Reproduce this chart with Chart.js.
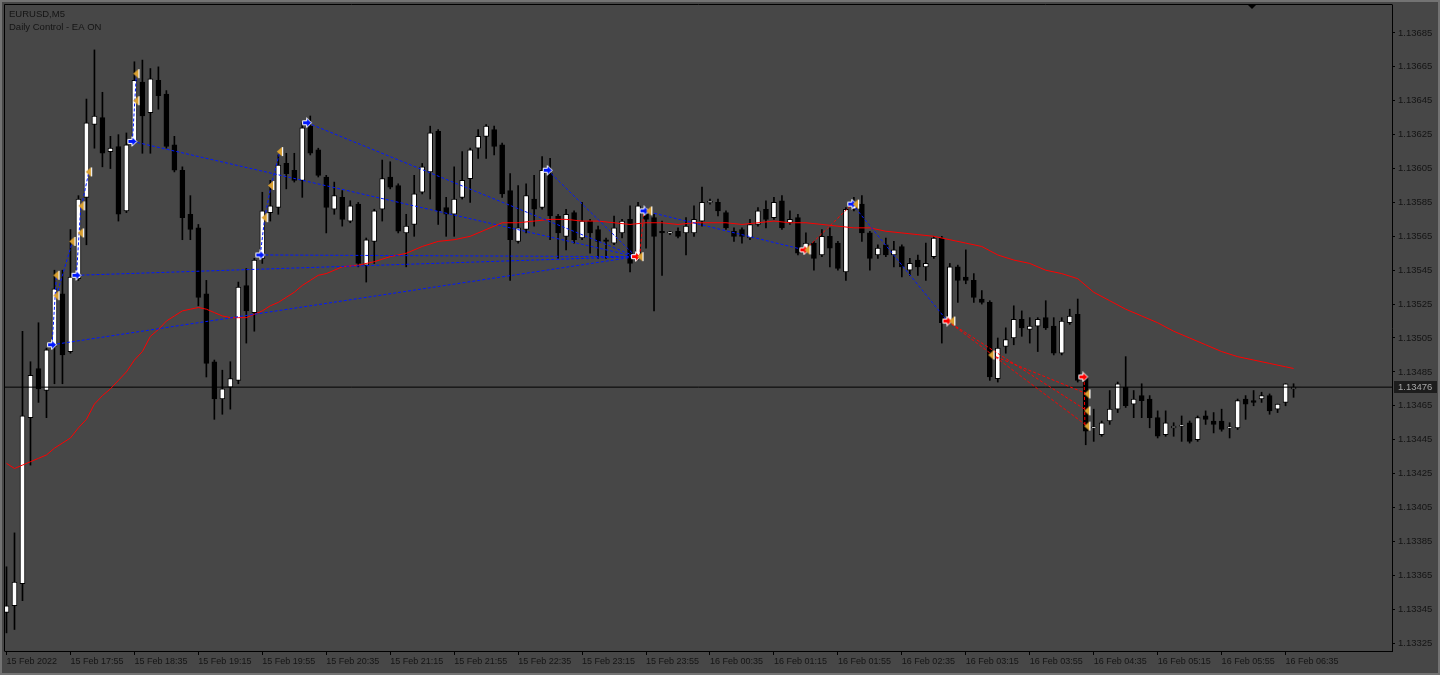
<!DOCTYPE html>
<html>
<head>
<meta charset="utf-8">
<script src="https://cdn.jsdelivr.net/npm/chart.js@4.4.1/dist/chart.umd.min.js"></script>
<style>
  html, body { margin: 0; padding: 0; background: #474747; overflow: hidden; }
  #wrap { width: 1440px; height: 675px; }
</style>
</head>
<body>
<div id="wrap"><canvas id="chart" width="1440" height="675"></canvas></div>
<script>
/* EURUSD M5 candles + MA + EA trade marks, MT4 look. */

// candle series, one value per 5-minute bar (15 Feb 17:15 .. 16 Feb 06:40)
const opens = [1.13343,1.13347,1.13360,1.13458,1.13487,1.13474,1.13500,1.13531,1.13497,1.13540,
  1.13588,1.13631,1.13635,1.13615,1.13618,1.13580,1.13621,1.13656,1.13638,1.13657,
  1.13649,1.13619,1.13604,1.13578,1.13570,1.13531,1.13491,1.13469,1.13476,1.13480,
  1.13536,1.13520,1.13552,1.13579,1.13582,1.13608,1.13604,1.13598,1.13630,1.13616,
  1.13600,1.13581,1.13588,1.13574,1.13584,1.13548,1.13562,1.13581,1.13600,1.13595,
  1.13567,1.13572,1.13591,1.13603,1.13627,1.13582,1.13578,1.13588,1.13599,1.13617,
  1.13624,1.13628,1.13619,1.13592,1.13562,1.13569,1.13587,1.13582,1.13602,1.13577,
  1.13565,1.13579,1.13564,1.13574,1.13569,1.13563,1.13561,1.13567,1.13575,1.13552,
  1.13578,1.13576,1.13568,1.13567,1.13568,1.13567,1.13567,1.13574,1.13585,1.13585,
  1.13579,1.13568,1.13569,1.13564,1.13572,1.13581,1.13576,1.13586,1.13573,1.13576,
  1.13557,1.13561,1.13554,1.13565,1.13561,1.13544,1.13581,1.13584,1.13567,1.13554,
  1.13560,1.13554,1.13559,1.13545,1.13551,1.13547,1.13553,1.13564,1.13515,1.13547,
  1.13541,1.13539,1.13528,1.13526,1.13481,1.13500,1.13505,1.13516,1.13510,1.13512,
  1.13517,1.13512,1.13496,1.13514,1.13519,1.13482,1.13452,1.13448,1.13456,1.13463,
  1.13476,1.13466,1.13471,1.13469,1.13458,1.13448,1.13452,1.13453,1.13455,1.13445,
  1.13459,1.13456,1.13456,1.13452,1.13452,1.13469,1.13468,1.13469,1.13471,1.13463,
  1.13467,1.13475];
const highs = [1.13370,1.13390,1.13509,1.13491,1.13514,1.13499,1.13545,1.13545,1.13569,1.13589,
  1.13646,1.13675,1.13650,1.13624,1.13625,1.13626,1.13668,1.13669,1.13664,1.13665,
  1.13651,1.13624,1.13606,1.13589,1.13572,1.13539,1.13492,1.13486,1.13491,1.13538,
  1.13546,1.13552,1.13591,1.13598,1.13613,1.13614,1.13614,1.13632,1.13636,1.13617,
  1.13601,1.13597,1.13592,1.13586,1.13585,1.13564,1.13581,1.13610,1.13609,1.13596,
  1.13578,1.13601,1.13608,1.13630,1.13628,1.13588,1.13606,1.13615,1.13617,1.13628,
  1.13631,1.13630,1.13620,1.13602,1.13595,1.13596,1.13601,1.13612,1.13611,1.13578,
  1.13581,1.13580,1.13585,1.13575,1.13571,1.13564,1.13577,1.13575,1.13583,1.13585,
  1.13582,1.13578,1.13574,1.13568,1.13570,1.13576,1.13583,1.13594,1.13587,1.13587,
  1.13580,1.13570,1.13570,1.13575,1.13582,1.13586,1.13588,1.13589,1.13580,1.13578,
  1.13567,1.13562,1.13569,1.13570,1.13562,1.13582,1.13588,1.13589,1.13568,1.13560,
  1.13564,1.13562,1.13560,1.13552,1.13554,1.13561,1.13565,1.13565,1.13549,1.13548,
  1.13557,1.13543,1.13533,1.13527,1.13505,1.13511,1.13524,1.13521,1.13517,1.13517,
  1.13527,1.13517,1.13517,1.13522,1.13528,1.13483,1.13463,1.13456,1.13474,1.13479,
  1.13494,1.13474,1.13478,1.13471,1.13462,1.13462,1.13455,1.13459,1.13456,1.13459,
  1.13462,1.13461,1.13463,1.13455,1.13469,1.13471,1.13474,1.13473,1.13472,1.13466,
  1.13478,1.13478];
const lows = [1.13331,1.13333,1.13350,1.13430,1.13467,1.13458,1.13478,1.13478,1.13496,1.13539,
  1.13560,1.13617,1.13606,1.13605,1.13574,1.13579,1.13620,1.13614,1.13614,1.13640,
  1.13617,1.13603,1.13563,1.13563,1.13524,1.13482,1.13457,1.13460,1.13463,1.13478,
  1.13502,1.13509,1.13549,1.13574,1.13578,1.13593,1.13597,1.13588,1.13613,1.13600,
  1.13567,1.13578,1.13571,1.13573,1.13547,1.13538,1.13549,1.13574,1.13593,1.13567,
  1.13547,1.13565,1.13590,1.13587,1.13572,1.13565,1.13565,1.13587,1.13585,1.13611,
  1.13611,1.13613,1.13588,1.13539,1.13561,1.13567,1.13571,1.13581,1.13563,1.13552,
  1.13557,1.13561,1.13563,1.13555,1.13552,1.13552,1.13560,1.13564,1.13544,1.13551,
  1.13558,1.13521,1.13542,1.13566,1.13564,1.13554,1.13565,1.13571,1.13584,1.13577,
  1.13569,1.13562,1.13561,1.13563,1.13571,1.13570,1.13575,1.13569,1.13572,1.13554,
  1.13556,1.13545,1.13553,1.13547,1.13545,1.13539,1.13580,1.13562,1.13545,1.13552,
  1.13553,1.13547,1.13541,1.13542,1.13542,1.13539,1.13552,1.13502,1.13514,1.13526,
  1.13537,1.13526,1.13525,1.13480,1.13479,1.13496,1.13501,1.13506,1.13502,1.13497,
  1.13510,1.13495,1.13495,1.13513,1.13479,1.13442,1.13444,1.13447,1.13454,1.13461,
  1.13464,1.13458,1.13458,1.13452,1.13446,1.13447,1.13447,1.13444,1.13443,1.13444,
  1.13454,1.13449,1.13450,1.13446,1.13451,1.13457,1.13465,1.13467,1.13460,1.13461,
  1.13465,1.13470];
const closes = [1.13347,1.13361,1.13459,1.13483,1.13475,1.13498,1.13534,1.13495,1.13541,1.13587,
  1.13632,1.13636,1.13614,1.13617,1.13578,1.13619,1.13657,1.13636,1.13658,1.13648,
  1.13618,1.13604,1.13576,1.13569,1.13529,1.13490,1.13469,1.13475,1.13481,1.13535,
  1.13521,1.13551,1.13580,1.13583,1.13607,1.13602,1.13598,1.13629,1.13614,1.13601,
  1.13582,1.13589,1.13575,1.13583,1.13549,1.13563,1.13580,1.13599,1.13594,1.13568,
  1.13571,1.13590,1.13606,1.13626,1.13580,1.13578,1.13587,1.13598,1.13616,1.13624,
  1.13630,1.13618,1.13590,1.13563,1.13570,1.13589,1.13581,1.13604,1.13577,1.13567,
  1.13578,1.13563,1.13574,1.13567,1.13562,1.13562,1.13570,1.13574,1.13549,1.13583,
  1.13575,1.13565,1.13567,1.13567,1.13565,1.13571,1.13575,1.13585,1.13585,1.13580,
  1.13570,1.13565,1.13565,1.13572,1.13580,1.13575,1.13585,1.13570,1.13575,1.13555,
  1.13561,1.13552,1.13565,1.13558,1.13546,1.13581,1.13584,1.13567,1.13552,1.13558,
  1.13554,1.13557,1.13547,1.13549,1.13547,1.13549,1.13564,1.13514,1.13547,1.13539,
  1.13539,1.13529,1.13526,1.13482,1.13499,1.13504,1.13516,1.13511,1.13512,1.13516,
  1.13511,1.13496,1.13515,1.13518,1.13480,1.13450,1.13452,1.13455,1.13463,1.13478,
  1.13465,1.13469,1.13468,1.13458,1.13447,1.13455,1.13453,1.13453,1.13444,1.13458,
  1.13457,1.13454,1.13451,1.13452,1.13468,1.13466,1.13467,1.13471,1.13462,1.13466,
  1.13478,1.13476];

// red moving average, read at these bar numbers
const maBars = [0,1,2,3,4,5,6,7,8,9,10,11,12,13,14,15,16,17,18,19,20,21,22,23,24,25,26,27,28,29,
  30,31,32,33,34,35,36,37,38,39,40,42,44,46,48,50,52,54,56,58,60,62,64,66,68,70,72,74,76,78,
  80,82,84,86,88,90,92,94,96,98,100,102,104,106,108,110,112,114,116,118,120,122,124,126,128,
  130,132,134,136,138,140,142,144,146,148,150,152,154,156,158,160,161];
const maValues = [1.13431,1.13428,1.13430,1.13432,1.13434,1.13436,1.13440,1.13443,1.13446,1.13452,
  1.13457,1.13466,1.13471,1.13475,1.13480,1.13485,1.13492,1.13497,1.13506,1.13510,
  1.13515,1.13518,1.13521,1.13522,1.13523,1.13522,1.13520,1.13518,1.13517,1.13517,
  1.13517,1.13519,1.13521,1.13524,1.13526,1.13529,1.13532,1.13536,1.13539,1.13542,
  1.13543,1.13547,1.13548,1.13550,1.13553,1.13555,1.13559,1.13562,1.13563,1.13565,
  1.13569,1.13573,1.13573,1.13574,1.13575,1.13575,1.13574,1.13574,1.13573,1.13572,
  1.13573,1.13573,1.13572,1.13573,1.13573,1.13573,1.13572,1.13573,1.13574,1.13573,
  1.13573,1.13572,1.13571,1.13570,1.13570,1.13568,1.13567,1.13566,1.13565,1.13563,
  1.13561,1.13559,1.13554,1.13551,1.13549,1.13545,1.13543,1.13540,1.13532,1.13527,
  1.13522,1.13518,1.13514,1.13509,1.13505,1.13501,1.13497,1.13494,1.13492,1.13490,
  1.13488,1.13487];

// EA trade marks: bar position (fractional) and price
const buyArrowBars   = [5.7, 8.75, 15.75, 31.75, 37.6, 67.7, 79.8, 105.8];
const buyArrowPrices = [1.13501, 1.13542, 1.13621, 1.13554, 1.13632, 1.13604, 1.13580, 1.13584];
const exitArrowBars   = [78.75, 99.8, 117.7, 134.7];
const exitArrowPrices = [1.13553, 1.13557, 1.13515, 1.13482];
const closeMarkBars   = [6.25, 6.25, 8.25, 9.4, 9.3, 10.3, 16.25, 16.25, 32.3, 33.1, 34.2,
  80.4, 79.3, 100.2, 106.25, 118.3, 123.2, 135.2, 135.2, 135.2];
const closeMarkPrices = [1.13542, 1.13530, 1.13562, 1.13583, 1.13567, 1.13603, 1.13661, 1.13645,
  1.13576, 1.13595, 1.13615, 1.13580, 1.13553, 1.13557, 1.13584, 1.13515, 1.13495,
  1.13472, 1.13462, 1.13453];

// dashed trade links [barFrom, priceFrom, barTo, priceTo]
const blueLinks = [
  [5.7, 1.13501, 78.75, 1.13553], [8.75, 1.13542, 78.75, 1.13553], [15.75, 1.13621, 78.75, 1.13553],
  [31.75, 1.13554, 78.75, 1.13553], [37.6, 1.13632, 78.75, 1.13553], [67.7, 1.13604, 78.75, 1.13553],
  [79.8, 1.13580, 99.8, 1.13557], [105.8, 1.13584, 117.7, 1.13515],
  [5.7, 1.13501, 6.25, 1.13542], [6.25, 1.13530, 8.25, 1.13562], [8.75, 1.13542, 9.3, 1.13583],
  [9.4, 1.13583, 10.3, 1.13603], [15.75, 1.13621, 16.25, 1.13661],
  [31.75, 1.13554, 32.3, 1.13576], [32.3, 1.13576, 33.1, 1.13595], [33.1, 1.13595, 34.2, 1.13615]
];
const redLinks = [
  [79.2, 1.13553, 79.7, 1.13578], [99.9, 1.13557, 105.8, 1.13584],
  [117.7, 1.13515, 135.2, 1.13453], [117.7, 1.13515, 135.2, 1.13462], [123.2, 1.13495, 135.2, 1.13472],
  [134.8, 1.13482, 134.9, 1.13453]
];

const bidPrice = 1.13476;
const priceTicks = [1.13325,1.13345,1.13365,1.13385,1.13405,1.13425,1.13445,1.13465,1.13485,1.13505,
  1.13525,1.13545,1.13565,1.13585,1.13605,1.13625,1.13645,1.13665,1.13685];
const timeTickBars = [0,8,16,24,32,40,48,56,64,72,80,88,96,104,112,120,128,136,144,152,160];
const timeLabels = ["15 Feb 2022","15 Feb 17:55","15 Feb 18:35","15 Feb 19:15","15 Feb 19:55",
  "15 Feb 20:35","15 Feb 21:15","15 Feb 21:55","15 Feb 22:35","15 Feb 23:15","15 Feb 23:55",
  "16 Feb 00:35","16 Feb 01:15","16 Feb 01:55","16 Feb 02:35","16 Feb 03:15","16 Feb 03:55",
  "16 Feb 04:35","16 Feb 05:15","16 Feb 05:55","16 Feb 06:35"];

// visible window (8px per bar, right shift empty)
const xMin = -0.1875, xMax = 173.3125;
const yMin = 1.133203, yMax = 1.137015;

const FONT = '"Liberation Sans", Arial, sans-serif';
const BG = '#474747';

// --- marker images ---
function arrowImg(fill) {
  const c = document.createElement('canvas');
  c.width = 12; c.height = 11;
  const g = c.getContext('2d');
  g.beginPath();
  g.moveTo(1.5, 3.5); g.lineTo(5.5, 3.5); g.lineTo(5.5, 0.8); g.lineTo(10.6, 5.5);
  g.lineTo(5.5, 10.2); g.lineTo(5.5, 7.5); g.lineTo(1.5, 7.5); g.closePath();
  g.fillStyle = fill; g.fill();
  g.strokeStyle = '#fff'; g.lineWidth = 1; g.stroke();
  return c;
}
function triImg() {
  const c = document.createElement('canvas');
  c.width = 8; c.height = 11;
  const g = c.getContext('2d');
  g.beginPath();
  g.moveTo(0.8, 5.5); g.lineTo(6, 1); g.lineTo(6, 10); g.closePath();
  g.fillStyle = '#daa030'; g.fill();
  g.fillStyle = '#fff'; g.fillRect(6, 1, 1.2, 9);
  return c;
}

const idx = opens.map((_, i) => i);
const wickData = idx.map(i => ({ x: i, y: [lows[i], highs[i]] }));
const bodyData = idx.map(i => ({ x: i, y: [opens[i], closes[i]] }));
const bodyFill = idx.map(i => closes[i] >= opens[i] ? '#ffffff' : '#000000');
const maData = maBars.map((b, k) => ({ x: b, y: maValues[k] }));
const pts = (bars, prices) => bars.map((b, k) => ({ x: b, y: prices[k] }));

function linkSet(l, color) {
  return {
    type: 'line', order: 1,
    data: [{ x: l[0], y: l[1] }, { x: l[2], y: l[3] }],
    borderColor: color, borderWidth: 1, borderDash: [3, 2],
    pointRadius: 0, fill: false, tension: 0
  };
}

const datasets = [
  { type: 'bar', order: 6, data: wickData, backgroundColor: '#000', borderWidth: 0,
    barThickness: 1, grouped: false },
  { type: 'bar', order: 5, data: bodyData, backgroundColor: bodyFill, borderColor: '#000',
    borderWidth: 1, borderSkipped: false, barThickness: 5, minBarLength: 1, grouped: false },
  { type: 'line', order: 3, data: [{ x: xMin, y: bidPrice }, { x: xMax, y: bidPrice }],
    borderColor: '#000', borderWidth: 1, pointRadius: 0 },
  { type: 'line', order: 2, data: maData, borderColor: '#ff0000', borderWidth: 1,
    pointRadius: 0, tension: 0 },
  ...blueLinks.map(l => linkSet(l, '#0018ff')),
  ...redLinks.map(l => linkSet(l, '#ff0000')),
  { type: 'scatter', order: 0, data: pts(closeMarkBars, closeMarkPrices), pointStyle: triImg(), pointRadius: 4 },
  { type: 'scatter', order: 0, data: pts(buyArrowBars, buyArrowPrices), pointStyle: arrowImg('#0018ff'), pointRadius: 4 },
  { type: 'scatter', order: 0, data: pts(exitArrowBars, exitArrowPrices), pointStyle: arrowImg('#ff0000'), pointRadius: 4 }
];

// background, window frame, caption, bid label, shift marker
const mt4Frame = {
  id: 'mt4Frame',
  beforeDraw(chart) {
    const { ctx, chartArea: a, width, height } = chart;
    ctx.save();
    ctx.fillStyle = BG;
    ctx.fillRect(0, 0, width, height);
    ctx.fillStyle = '#737373';
    ctx.fillRect(0, 0, width, 2);
    ctx.fillRect(0, 0, 2, height);
    ctx.fillRect(0, height - 2, width, 2);
    ctx.fillRect(width - 2, 0, 2, height);
    ctx.strokeStyle = '#000';
    ctx.lineWidth = 1;
    ctx.beginPath();
    ctx.moveTo(a.left - 0.5, a.bottom + 0.5);
    ctx.lineTo(a.left - 0.5, a.top - 0.5);
    ctx.lineTo(a.right + 0.5, a.top - 0.5);
    ctx.stroke();
    ctx.restore();
  },
  afterDraw(chart) {
    const { ctx, scales: { y } } = chart;
    ctx.save();
    ctx.font = '9.5px ' + FONT;
    ctx.fillStyle = '#141414';
    ctx.textBaseline = 'alphabetic';
    ctx.fillText('EURUSD,M5', 9, 17);
    ctx.fillText('Daily Control - EA ON', 9, 30);

    const yb = y.getPixelForValue(bidPrice);
    ctx.fillStyle = '#1d1d1d';
    ctx.fillRect(1394, Math.round(yb) - 6, 43, 12);
    ctx.fillStyle = '#a8a8a8';
    ctx.textBaseline = 'middle';
    ctx.fillText(bidPrice.toFixed(5), 1398, Math.round(yb) + 0.5);

    ctx.fillStyle = '#000';
    ctx.beginPath();
    ctx.moveTo(1247, 4); ctx.lineTo(1257, 4); ctx.lineTo(1252, 9); ctx.closePath();
    ctx.fill();
    ctx.restore();
  }
};

new Chart(document.getElementById('chart'), {
  type: 'bar',
  data: { datasets },
  plugins: [mt4Frame],
  options: {
    responsive: false,
    animation: false,
    devicePixelRatio: 1,
    events: [],
    layout: { padding: { left: 4, top: 4, right: 0, bottom: 0 } },
    plugins: { legend: { display: false }, tooltip: { enabled: false } },
    scales: {
      x: {
        type: 'linear', min: xMin, max: xMax, offset: false,
        afterBuildTicks: s => { s.ticks = timeTickBars.map(v => ({ value: v })); },
        afterFit: s => { s.height = 24; s.paddingLeft = 0; s.paddingRight = 0; },
        ticks: {
          align: 'start', maxRotation: 0, autoSkip: false, padding: 1,
          color: '#141414', font: { family: FONT, size: 9 },
          callback: (v, i) => timeLabels[i]
        },
        grid: { drawOnChartArea: false, drawTicks: true, tickLength: 4, color: '#000', offset: false },
        border: { display: true, color: '#000' }
      },
      y: {
        type: 'linear', position: 'right', min: yMin, max: yMax,
        afterBuildTicks: s => { s.ticks = priceTicks.map(v => ({ value: v })); },
        afterFit: s => { s.width = 48; s.paddingTop = 0; s.paddingBottom = 0; },
        ticks: {
          autoSkip: false, padding: 3, color: '#141414', font: { family: FONT, size: 9.5 },
          callback: v => v.toFixed(5)
        },
        grid: { drawOnChartArea: false, drawTicks: true, tickLength: 3, color: '#000' },
        border: { display: true, color: '#000' }
      }
    }
  }
});
</script>
</body>
</html>
